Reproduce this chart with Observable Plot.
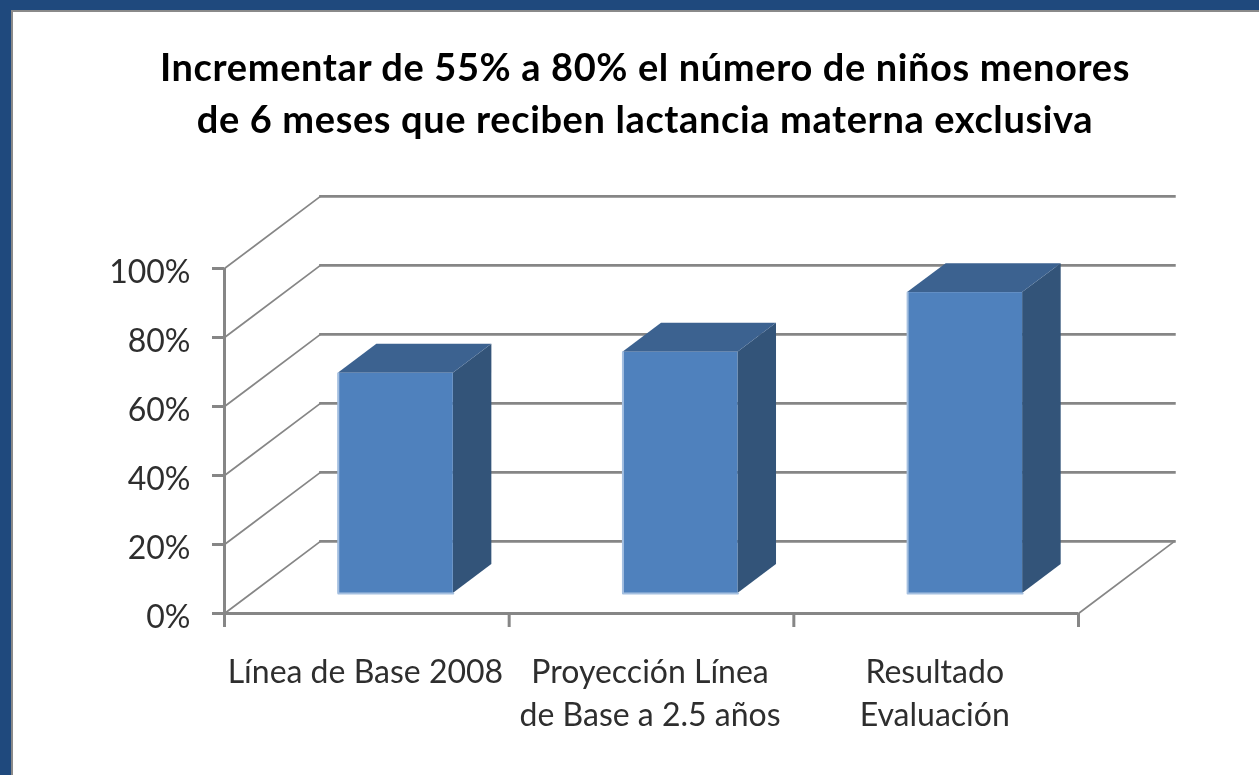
<!DOCTYPE html>
<html lang="es">
<head>
<meta charset="utf-8">
<script src="https://cdn.jsdelivr.net/npm/d3@7"></script>
<script src="https://cdn.jsdelivr.net/npm/@observablehq/plot@0.6"></script>
<style>
  html, body { margin: 0; padding: 0; background: #fff; overflow: hidden; }
  body { width: 1259px; height: 775px; position: relative; }
  #frame { position: absolute; left: 0; top: 0; width: 1259px; height: 775px; box-sizing: border-box;
           border-top: 10px solid #1F497D; border-left: 11px solid #1F497D; pointer-events: none; }
  #frame div { width: 100%; height: 100%; box-sizing: border-box; border-top: 2px solid #8a8a8a; border-left: 2px solid #8a8a8a; }
  #title { box-sizing: border-box; height: 165px; padding: 40px 0 0 31px; text-align: center;
           font: 700 38px/52px Lato, sans-serif; letter-spacing: 0.62px; color: #000; }
  #chart { display: block; }
  #chart svg, #title { filter: blur(0.55px); }
</style>
</head>
<body>
<div id="title">Incrementar de 55% a 80% el número de niños menores<br>de 6 meses que reciben lactancia materna exclusiva</div>
<div id="chart"></div>
<div id="frame"><div></div></div>
<script>
const categories = ["Línea de Base 2008", "Proyección Línea\nde Base a 2.5 años", "Resultado\nEvaluación"];
const values = [63.8, 69.9, 87.2];
const yTicks = [0, 20, 40, 60, 80, 100];
const xTicks = [0, 1, 2, 3];

// Oblique projection of the 3D chart's depth into the data units of x and y.
const depthX = 0.337, depthY = 20.9;
const barCenter = 0.508, barHalf = 0.202, barFront = 0.278, barBack = 0.68;

const grid = "#868686";
const px = (x, d) => x + d * depthX;
const py = (y, d) => y + d * depthY;

const wallSlant = yTicks.flatMap(t => [
  {t, x: px(0, 0), y: py(t, 0)},
  {t, x: px(0, 1), y: py(t, 1)}
]);
const wallBack = yTicks.flatMap(t => [
  {t, x: px(0, 1), y: py(t, 1)},
  {t, x: px(3, 1), y: py(t, 1)}
]);
const floorEdge = [
  {x: px(3, 0), y: py(0, 0)},
  {x: px(3, 1), y: py(0, 1)}
];
const bars = values.map((v, i) => ({i, v, left: i + barCenter - barHalf, right: i + barCenter + barHalf}));
const sideFace = bars.flatMap(b => [barFront, barBack].map(d => ({
  i: b.i, x: px(b.right, d), y1: py(0, d), y2: py(b.v, d)
})));
const topFace = bars.flatMap(b => [barFront, barBack].map(d => ({
  i: b.i, y: py(b.v, d), x1: px(b.left, d), x2: px(b.right, d)
})));
const frontEdge = bars.flatMap(b => [
  {i: b.i, x: px(b.left, barFront), y: py(b.v, barFront)},
  {i: b.i, x: px(b.left, barFront), y: py(0, barFront)},
  {i: b.i, x: px(b.right, barFront), y: py(0, barFront)}
]);
const labels = categories.map((c, i) => ({c, x: i + 0.495}));

const textFont = "Lato, sans-serif";
const ink = "#2e2e2e";
const plot = Plot.plot({
  width: 1259,
  height: 610,
  marginLeft: 224,
  marginRight: 181,
  marginTop: 103,
  marginBottom: 162,
  style: {background: "transparent", fontFamily: textFont, color: ink},
  x: {domain: [0, 3]},
  y: {domain: [0, 100]},
  marks: [
    Plot.line(wallSlant, {x: "x", y: "y", z: "t", stroke: grid, strokeWidth: 1.7}),
    Plot.line(wallBack, {x: "x", y: "y", z: "t", stroke: grid, strokeWidth: 2.6, strokeLinecap: "square"}),
    Plot.line(floorEdge, {x: "x", y: "y", stroke: grid, strokeWidth: 1.7}),
    Plot.ruleX([0], {y1: 0, y2: 100, stroke: grid, strokeWidth: 3}),
    Plot.ruleY([0], {x1: 0, x2: 3, stroke: grid, strokeWidth: 3}),
    Plot.axisY({ticks: yTicks, tickSize: 12, tickFormat: () => "", stroke: grid, strokeWidth: 3, label: null}),
    Plot.axisX({ticks: xTicks, tickSize: 14, tickFormat: () => "", stroke: grid, strokeWidth: 3, label: null}),
    Plot.text(yTicks, {x: 0, y: d => d, text: d => d + "%", dx: -34, dy: 4, textAnchor: "end",
                       fontSize: 32, fill: ink}),
    Plot.areaY(sideFace, {x: "x", y1: "y1", y2: "y2", z: "i", fill: "#335479"}),
    Plot.areaX(topFace, {y: "y", x1: "x1", x2: "x2", z: "i", fill: "#3C6290"}),
    Plot.rect(bars, {
      x1: d => px(d.left, barFront), x2: d => px(d.right, barFront),
      y1: py(0, barFront), y2: d => py(d.v, barFront), fill: "#4F81BD"
    }),
    Plot.line(frontEdge, {x: "x", y: "y", z: "i", stroke: "#A4BFE0", strokeWidth: 2}),
    Plot.text(labels, {x: "x", y: 0, text: "c", dy: 39, lineAnchor: "top", lineHeight: 1.345,
                       fontSize: 32, fill: ink, textAnchor: "middle"})
  ]
});
document.getElementById("chart").append(plot);
</script>
</body>
</html>
